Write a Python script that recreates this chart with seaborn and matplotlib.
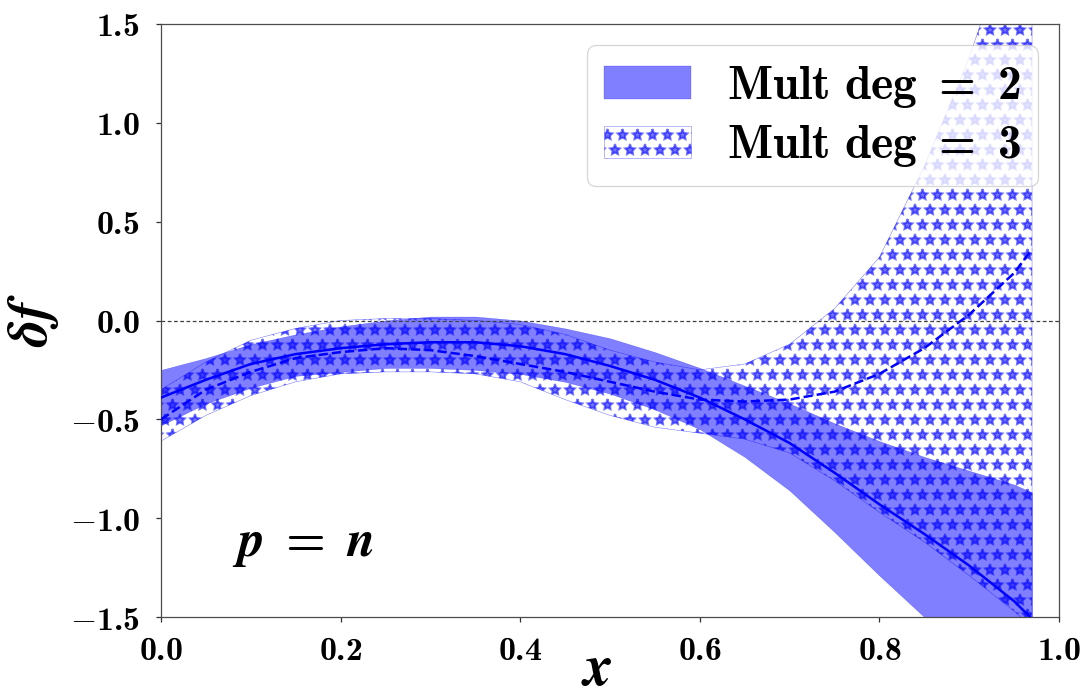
import matplotlib
matplotlib.use("Agg")
import matplotlib.pyplot as plt
import seaborn as sns
from matplotlib.ticker import FuncFormatter, FixedLocator

# ---------------- data ----------------
x_vals = [0.0, 0.05, 0.10, 0.15, 0.20, 0.25, 0.30, 0.35, 0.40, 0.45, 0.50,
          0.55, 0.60, 0.65, 0.70, 0.75, 0.80, 0.85, 0.90, 0.95, 0.97]

deg2_central = [-0.39, -0.30, -0.22, -0.17, -0.14, -0.12, -0.11, -0.11, -0.13, -0.17, -0.23,
                -0.30, -0.39, -0.50, -0.62, -0.77, -0.93, -1.08, -1.24, -1.42, -1.51]
deg2_upper = [-0.25, -0.19, -0.12, -0.07, -0.03, 0.00, 0.02, 0.02, 0.00, -0.04, -0.09,
              -0.16, -0.24, -0.33, -0.42, -0.52, -0.61, -0.69, -0.76, -0.83, -0.87]
deg2_lower = [-0.53, -0.42, -0.34, -0.28, -0.26, -0.24, -0.24, -0.25, -0.27, -0.31, -0.37,
              -0.45, -0.55, -0.69, -0.86, -1.07, -1.29, -1.50, -1.72, -1.95, -2.05]

deg3_central = [-0.50, -0.35, -0.26, -0.19, -0.16, -0.14, -0.15, -0.18, -0.22, -0.26, -0.31,
                -0.36, -0.40, -0.41, -0.40, -0.36, -0.27, -0.14, 0.03, 0.24, 0.36]
deg3_upper = [-0.35, -0.21, -0.10, -0.04, 0.00, 0.01, 0.01, 0.00, -0.02, -0.07, -0.15,
              -0.21, -0.25, -0.22, -0.12, 0.06, 0.32, 0.78, 1.33, 2.00, 2.30]
deg3_lower = [-0.61, -0.48, -0.38, -0.31, -0.27, -0.26, -0.26, -0.27, -0.31, -0.40, -0.48,
              -0.54, -0.57, -0.60, -0.67, -0.81, -0.97, -1.12, -1.29, -1.47, -1.55]

series_labels = [r"$\mathbf{Mult\ deg\ =\ 2}$", r"$\mathbf{Mult\ deg\ =\ 3}$"]
x_ticks = [0.0, 0.2, 0.4, 0.6, 0.8, 1.0]
y_ticks = [-1.5, -1.0, -0.5, 0.0, 0.5, 1.0, 1.5]
annotation = r"$\mathbfit{p}\;\mathbf{=}\;\mathbfit{n}$"
x_label = r"$\mathbfit{x}$"
y_label = r"$\mathbfit{\delta f}$"

# ---------------- style ----------------
sns.set_theme(style="ticks")
plt.rcParams["font.family"] = ["DejaVu Serif"]
plt.rcParams["mathtext.fontset"] = "custom"
plt.rcParams["mathtext.rm"] = "cmr10"
plt.rcParams["mathtext.it"] = "cmmi10"
plt.rcParams["mathtext.bf"] = "cmb10"
plt.rcParams["mathtext.bfit"] = "STIXGeneral:italic:bold"
plt.rcParams["mathtext.fallback"] = "cm"
plt.rcParams["hatch.linewidth"] = 1.7
plt.rcParams["text.color"] = "black"
plt.rcParams["axes.labelcolor"] = "black"
plt.rcParams["xtick.color"] = "black"
plt.rcParams["ytick.color"] = "black"

DPI = 90
fig, ax = plt.subplots(figsize=(1082 / DPI, 699 / DPI), dpi=DPI)
fig.subplots_adjust(left=161 / 1082, right=1059 / 1082, bottom=1 - 617 / 699, top=1 - 24 / 699)

band3 = ax.fill_between(x_vals, deg3_lower, deg3_upper, facecolor="none",
                        edgecolor=(0, 0, 1, 0.55), hatch="*", linewidth=0.4, zorder=1)
band2 = ax.fill_between(x_vals, deg2_lower, deg2_upper, color="blue", alpha=0.5,
                        linewidth=0.3, zorder=2)

sns.lineplot(x=x_vals, y=deg2_central, ax=ax, color="blue", linewidth=2.0,
             linestyle="-", legend=False, zorder=3)
sns.lineplot(x=x_vals, y=deg3_central, ax=ax, color="blue", linewidth=2.0,
             linestyle="--", legend=False, zorder=3)

ax.axhline(0.0, color="0.25", linestyle="--", linewidth=1.0, dashes=(3, 2), zorder=2.5)

ax.set_xlim(0.0, 1.0)
ax.set_ylim(-1.5, 1.5)
ax.xaxis.set_major_locator(FixedLocator(x_ticks))
ax.yaxis.set_major_locator(FixedLocator(y_ticks))
fmt = FuncFormatter(lambda v, p: r"$\mathbf{%.1f}$" % v)
ax.xaxis.set_major_formatter(fmt)
ax.yaxis.set_major_formatter(fmt)
ax.tick_params(axis="both", direction="out", length=4, width=1, color="0.2",
               labelsize=27)
ax.tick_params(axis="y", pad=13)
ax.tick_params(axis="x", pad=10)

for s in ax.spines.values():
    s.set_visible(True)
    s.set_color("0.3")
    s.set_linewidth(1.0)

ax.set_xlabel(x_label, fontsize=46)
ax.xaxis.label.set_va("baseline")
ax.xaxis.set_label_coords(0.485, -0.115)
ax.set_ylabel(y_label, fontsize=44)
ax.yaxis.label.set_va("center")
ax.yaxis.set_label_coords(-0.142, 0.5)

ax.text(0.079, -1.19, annotation, fontsize=41, va="baseline", ha="left")

ax.legend(handles=[band2, band3], labels=series_labels, loc="upper right",
          fontsize=38, handlelength=1.85, handleheight=0.67, handletextpad=0.74,
          borderaxespad=0.45, labelspacing=0.24, borderpad=0.35)

fig.savefig("out.png", dpi=DPI)
